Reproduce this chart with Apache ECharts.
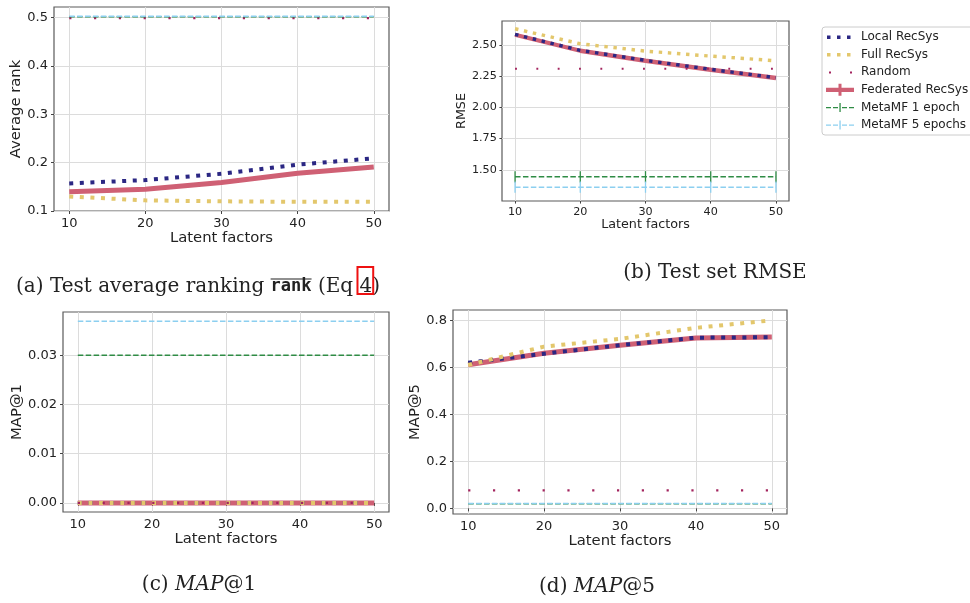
<!DOCTYPE html>
<html>
<head>
<meta charset="utf-8">
<title>RecSys results</title>
<script src="https://cdn.jsdelivr.net/npm/echarts@6/dist/echarts.min.js"></script>
<style>
html, body { margin: 0; padding: 0; background: #fff; }
#main { width: 970px; height: 603px; }
</style>
</head>
<body>
<div id="main"></div>
<script>
// latent factors (x axis of all four panels)
var factors = [10, 20, 30, 40, 50];
var xTicks = [10, 20, 30, 40, 50];

// (a) test average ranking
var rankLocal = [0.157, 0.164, 0.177, 0.196, 0.209];
var rankFull = [0.130, 0.122, 0.120, 0.119, 0.119];
var rankRandom = [0.499, 0.499, 0.499, 0.499, 0.499];
var rankFed = [0.140, 0.145, 0.159, 0.178, 0.191];
var rankMeta1 = [0.502, 0.502, 0.502, 0.502, 0.502];
var rankMeta5 = [0.503, 0.503, 0.503, 0.503, 0.503];
var rankTicks = [0.1, 0.2, 0.3, 0.4, 0.5];

// (b) test set RMSE
var rmseLocal = [2.583, 2.455, 2.375, 2.303, 2.236];
var rmseFull = [2.628, 2.508, 2.449, 2.409, 2.372];
var rmseRandom = [2.308, 2.308, 2.308, 2.308, 2.308];
var rmseFed = [2.580, 2.452, 2.372, 2.300, 2.234];
var rmseMeta1 = [1.444, 1.444, 1.444, 1.444, 1.444];
var rmseMeta1Err = [0.045, 0.045, 0.045, 0.045, 0.045];
var rmseMeta5 = [1.361, 1.361, 1.361, 1.361, 1.361];
var rmseMeta5Err = [0.045, 0.045, 0.045, 0.045, 0.045];
var rmseTicks = [1.5, 1.75, 2.0, 2.25, 2.5];

// (c) MAP@1
var map1Local = [0, 0, 0, 0, 0];
var map1Full = [0, 0, 0, 0, 0];
var map1Random = [0, 0, 0, 0, 0];
var map1Fed = [0, 0, 0, 0, 0];
var map1Meta1 = [0.030, 0.030, 0.030, 0.030, 0.030];
var map1Meta5 = [0.0369, 0.0369, 0.0369, 0.0369, 0.0369];
var map1Ticks = [0, 0.01, 0.02, 0.03];

// (d) MAP@5
var map5Local = [0.620, 0.659, 0.695, 0.727, 0.729];
var map5Full = [0.611, 0.689, 0.722, 0.769, 0.801];
var map5Random = [0.077, 0.077, 0.077, 0.077, 0.077];
var map5Fed = [0.612, 0.661, 0.695, 0.726, 0.730];
var map5Meta1 = [0.020, 0.020, 0.020, 0.020, 0.020];
var map5Meta5 = [0.021, 0.021, 0.021, 0.021, 0.021];
var map5Ticks = [0, 0.2, 0.4, 0.6, 0.8];

var names = ['Local RecSys', 'Full RecSys', 'Random', 'Federated RecSys', 'MetaMF 1 epoch', 'MetaMF 5 epochs'];
var colors = {
	'Local RecSys': '#2b2783',
	'Full RecSys': '#e3c76c',
	'Random': '#a3245e',
	'Federated RecSys': '#cf6074',
	'MetaMF 1 epoch': '#2f8c45',
	'MetaMF 5 epochs': '#8ccff0'
};

var font = 'DejaVu Sans';
var capFont = 'DejaVu Serif';
// panel (b) is printed smaller than the others
var scale = [1, 0.86, 1, 1];

function pairs(arr) {
	return factors.map(function(f, i) {
		return [f, arr[i]];
	});
}

function line(name, idx, arr) {
	var s = scale[idx];
	var st;
	if (name == 'Federated RecSys') {
		st = { width: 5 * s, type: 'solid' };
	} else if (name == 'Local RecSys' || name == 'Full RecSys') {
		st = { width: 4 * s, type: [4 * s, 6.6 * s] };
	} else if (name == 'Random') {
		st = { width: 2.2 * s, type: [2.2 * s, 22.6 * s] };
	} else {
		st = { width: 1.5, type: [5.5, 2.4] };
	}
	st.color = colors[name];
	st.cap = 'butt';
	return {
		type: 'line',
		name: name,
		xAxisIndex: idx,
		yAxisIndex: idx,
		data: pairs(arr),
		symbol: 'none',
		color: colors[name],
		lineStyle: st,
		silent: true
	};
}

function errBars(name, idx, arr, err) {
	return {
		type: 'custom',
		name: name,
		xAxisIndex: idx,
		yAxisIndex: idx,
		silent: true,
		data: factors.map(function(f, i) {
			return [f, arr[i] - err[i], arr[i] + err[i]];
		}),
		renderItem: function(params, api) {
			var lo = api.coord([api.value(0), api.value(1)]);
			var hi = api.coord([api.value(0), api.value(2)]);
			return {
				type: 'line',
				shape: { x1: lo[0], y1: lo[1], x2: hi[0], y2: hi[1] },
				style: { stroke: colors[name], lineWidth: 1.3 }
			};
		}
	};
}

// plotting order: federated below, then local, full, random, metaMF
function panel(idx, local, full, random, fed, m1, m5) {
	return [
		line('Federated RecSys', idx, fed),
		line('Local RecSys', idx, local),
		line('Full RecSys', idx, full),
		line('Random', idx, random),
		line('MetaMF 1 epoch', idx, m1),
		line('MetaMF 5 epochs', idx, m5)
	];
}

function xAxis(idx) {
	var s = scale[idx];
	return {
		type: 'value',
		gridIndex: idx,
		min: 8,
		max: 52,
		name: 'Latent factors',
		nameLocation: 'middle',
		nameGap: [20, 17, 19, 20][idx],
		nameTextStyle: { fontFamily: font, fontSize: 14.8 * s, color: '#222' },
		axisLine: { show: false },
		axisTick: { show: true, length: 3 * s, customValues: xTicks, lineStyle: { color: '#444', width: 1 } },
		axisLabel: { fontFamily: font, fontSize: 13 * s, color: '#222', margin: 6 * s, customValues: xTicks },
		splitLine: { show: true, lineStyle: { color: '#dcdcdc', width: 1 } }
	};
}

function yAxis(idx, name, min, max, interval, ticks, digits, gap) {
	var s = scale[idx];
	var ax = {
		type: 'value',
		gridIndex: idx,
		min: min,
		max: max,
		name: name,
		nameLocation: 'middle',
		nameGap: gap,
		nameTextStyle: { fontFamily: font, fontSize: 14.8 * s, color: '#222' },
		axisLine: { show: false },
		axisTick: { show: true, length: 3 * s, customValues: ticks, lineStyle: { color: '#444', width: 1 } },
		axisLabel: {
			fontFamily: font, fontSize: 13 * s, color: '#222', margin: 6 * s, customValues: ticks,
			formatter: function(v) { return v.toFixed(digits); }
		},
		splitLine: { show: true, lineStyle: { color: '#dcdcdc', width: 1 } }
	};
	if (interval) ax.interval = interval;
	return ax;
}

// legend icons, drawn in a 28 x 12 box (M points keep the box size)
var box = 'M0,0 M28,12 ';
var dots = box + 'M1,4.5h3.5v3.5h-3.5z M11,4.5h3.5v3.5h-3.5z M21,4.5h3.5v3.5h-3.5z';
var dashTick = box + 'M0,5.5h5v1.3h-5z M7,5.5h5v1.3h-5z M16,5.5h5v1.3h-5z M23,5.5h5v1.3h-5z M13.4,1.5h1.3v9h-1.3z';
var icons = {
	'Local RecSys': dots,
	'Full RecSys': dots,
	'Random': box + 'M3,5.2h2v2h-2z M24,5.2h2v2h-2z',
	'Federated RecSys': box + 'M0,4h28v4.2h-28z M12.5,0h3v12h-3z',
	'MetaMF 1 epoch': dashTick,
	'MetaMF 5 epochs': dashTick
};

// caption (a): measure the pieces so the overline sits on "rank" and the box on "4"
var capA = { cx: 198, cy: 287 };
(function() {
	var ctx = document.createElement('canvas').getContext('2d');
	ctx.font = '20px "DejaVu Serif"';
	var w1 = ctx.measureText('(a) Test average ranking ').width;
	var w3 = ctx.measureText(' (Eq ').width;
	var w4 = ctx.measureText('4').width;
	var w5 = ctx.measureText(')').width;
	ctx.font = 'bold 17px "DejaVu Sans Mono"';
	var wm = ctx.measureText('rank').width;
	var x0 = capA.cx - (w1 + wm + w3 + w4 + w5) / 2;
	capA.o1 = x0 + w1;
	capA.o2 = x0 + w1 + wm;
	capA.b1 = x0 + w1 + wm + w3 - 2;
	capA.bw = w4 + 3;
})();

var myChart = echarts.init(document.getElementById('main'));

var series = []
	.concat(panel(0, rankLocal, rankFull, rankRandom, rankFed, rankMeta1, rankMeta5))
	.concat(panel(1, rmseLocal, rmseFull, rmseRandom, rmseFed, rmseMeta1, rmseMeta5))
	.concat([errBars('MetaMF 1 epoch', 1, rmseMeta1, rmseMeta1Err), errBars('MetaMF 5 epochs', 1, rmseMeta5, rmseMeta5Err)])
	.concat(panel(2, map1Local, map1Full, map1Random, map1Fed, map1Meta1, map1Meta5))
	.concat(panel(3, map5Local, map5Full, map5Random, map5Fed, map5Meta1, map5Meta5));

option = {
	animation: false,
	backgroundColor: '#fff',
	grid: [
		{ left: 54, top: 7, width: 335, height: 204 },
		{ left: 502, top: 21, width: 287, height: 180 },
		{ left: 63, top: 312, width: 326, height: 200 },
		{ left: 453, top: 310, width: 334, height: 204 }
	].map(function(g) {
		g.show = true;
		g.borderColor = '#5a5a5a';
		g.borderWidth = 1.2;
		g.backgroundColor = 'transparent';
		return g;
	}),
	xAxis: [xAxis(0), xAxis(1), xAxis(2), xAxis(3)],
	yAxis: [
		yAxis(0, 'Average rank', 0.1, 0.522, 0.1, rankTicks, 1, 25),
		yAxis(1, 'RMSE', 1.25, 2.69, 0.25, rmseTicks, 2, 31),
		yAxis(2, 'MAP@1', -0.00185, 0.0388, null, map1Ticks, 2, 37),
		yAxis(3, 'MAP@5', -0.024, 0.845, null, map5Ticks, 1, 29)
	],
	legend: {
		left: 822,
		top: 27,
		orient: 'vertical',
		itemWidth: 28,
		itemHeight: 12,
		itemGap: 5.6,
		padding: [4, 14, 4, 4],
		borderColor: '#cccccc',
		borderWidth: 1,
		borderRadius: 3,
		backgroundColor: '#fff',
		selectedMode: false,
		textStyle: { fontFamily: font, fontSize: 12, lineHeight: 12, color: '#222', padding: [0, 0, 0, 2] },
		itemStyle: { borderWidth: 0 },
		lineStyle: { width: 0 },
		data: names.map(function(n) {
			return { name: n, icon: 'path://' + icons[n] };
		})
	},
	graphic: [
		{
			type: 'text', x: capA.cx, y: capA.cy,
			style: {
				text: '(a) Test average ranking {m|rank} (Eq 4)',
				font: '20px "DejaVu Serif"', fill: '#222',
				align: 'center', verticalAlign: 'middle',
				rich: {
					m: { fontFamily: 'DejaVu Sans Mono', fontWeight: 'bold', fontSize: 17, fill: '#222' }
				}
			}
		},
		{ type: 'line', shape: { x1: capA.o1, y1: capA.cy - 8, x2: capA.o2, y2: capA.cy - 8 }, style: { stroke: '#222', lineWidth: 1.2 } },
		{ type: 'rect', shape: { x: capA.b1, y: capA.cy - 20, width: capA.bw, height: 27 }, style: { fill: 'none', stroke: '#ee1111', lineWidth: 2 } },
		{
			type: 'text', x: 715, y: 273,
			style: { text: '(b) Test set RMSE', font: '20px "DejaVu Serif"', fill: '#222', align: 'center', verticalAlign: 'middle' }
		},
		{
			type: 'text', x: 199, y: 585,
			style: {
				text: '(c) {i|MAP}@1', font: '20px "DejaVu Serif"', fill: '#222', align: 'center', verticalAlign: 'middle',
				rich: { i: { fontFamily: capFont, fontStyle: 'italic', fontSize: 20 } }
			}
		},
		{
			type: 'text', x: 597, y: 587,
			style: {
				text: '(d) {i|MAP}@5', font: '20px "DejaVu Serif"', fill: '#222', align: 'center', verticalAlign: 'middle',
				rich: { i: { fontFamily: capFont, fontStyle: 'italic', fontSize: 20 } }
			}
		}
	],
	series: series
};

myChart.setOption(option);
</script>
</body>
</html>
